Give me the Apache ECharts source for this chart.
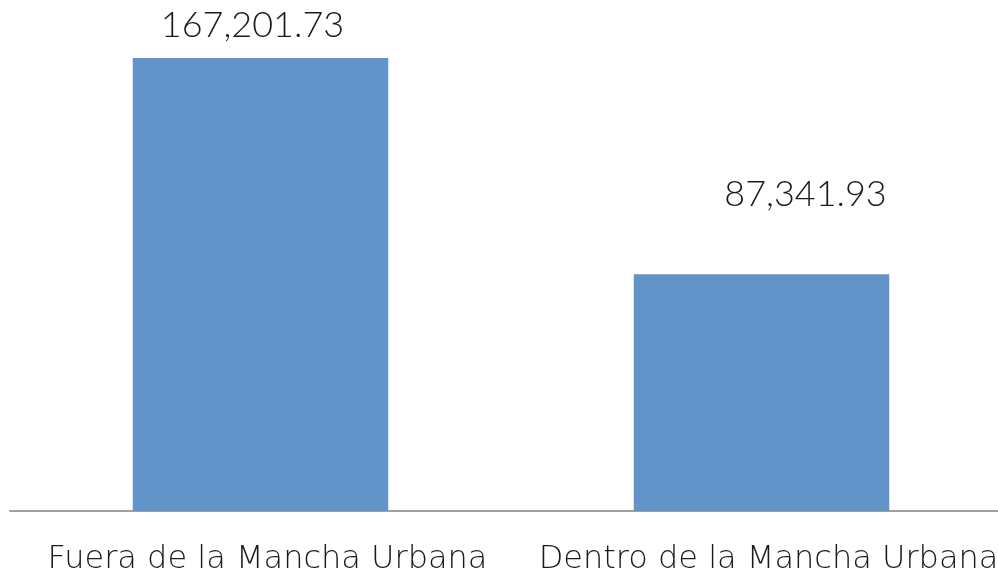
<!DOCTYPE html>
<html>
<head>
<meta charset="utf-8">
<script src="https://cdn.jsdelivr.net/npm/echarts@6/dist/echarts.min.js"></script>
<style>
html, body { margin: 0; padding: 0; background: #fff; }
#chart { width: 998px; height: 577px; }
</style>
</head>
<body>
<div id="chart"></div>
<script>
var categories = ['Fuera de la Mancha Urbana', 'Dentro de la Mancha Urbana'];
var values = [167201.73, 87341.93];

function fmt(v) {
    return v.toLocaleString('en-US', { minimumFractionDigits: 2, maximumFractionDigits: 2 });
}

// etiquetas colocadas a mano como en el original
var labelTweaks = [
    { distance: 15, offset: [-8, 0] },
    { distance: 62, offset: [44, 0] }
];

var seriesData = values.map(function (v, i) {
    return {
        value: v,
        label: labelTweaks[i]
    };
});

var option = {
    animation: false,
    grid: {
        top: 58,
        left: 10,
        width: 1002,
        height: 453,
        containLabel: false,
        outerBoundsMode: 'none'
    },
    xAxis: {
        type: 'category',
        data: categories,
        axisTick: { show: false },
        axisLine: { lineStyle: { color: '#a0a0a0', width: 2 } },
        axisLabel: {
            interval: 0,
            color: '#1a1a1a',
            fontFamily: 'DejaVu Sans',
            fontWeight: 200,
            fontSize: 32,
            margin: 33,
            padding: [0, 0, 0, 14]
        }
    },
    yAxis: {
        type: 'value',
        min: 0,
        max: values[0],
        show: false,
        splitLine: { show: false }
    },
    series: [{
        type: 'bar',
        data: seriesData,
        barWidth: '51%',
        itemStyle: { color: '#6394c9' },
        label: {
            show: true,
            position: 'top',
            color: '#1a1a1a',
            fontFamily: 'Lato',
            fontWeight: 300,
            fontSize: 36,
            formatter: function (p) { return fmt(p.value); }
        }
    }]
};

var chart = echarts.init(document.getElementById('chart'));
chart.setOption(option);
</script>
</body>
</html>
